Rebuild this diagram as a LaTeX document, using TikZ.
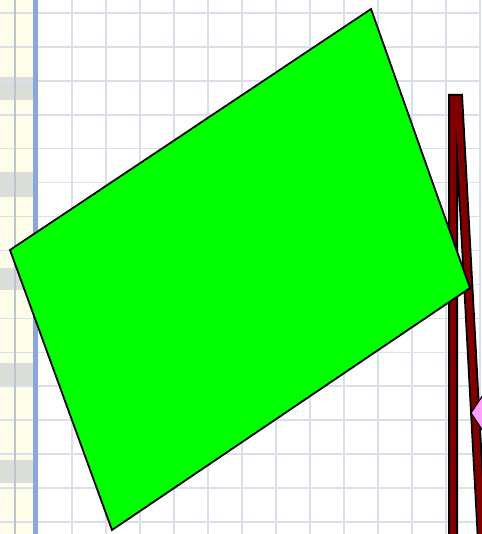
\documentclass[tikz,border=0pt]{standalone}
\definecolor{gridc}{HTML}{D9E0EA}
\definecolor{stripc}{HTML}{FDFDEA}
\definecolor{bandc}{HTML}{DADDD8}
\definecolor{stripline}{HTML}{BCC4CE}
\definecolor{marginc}{HTML}{8CA6DA}
\definecolor{maroonc}{HTML}{800000}
\definecolor{greenc}{HTML}{00FF00}
\definecolor{pinkc}{HTML}{FFA0FF}
\tikzset{
  gridline/.style={gridc, line width=1.5},
  outline/.style={draw=black, line width=1.8, line join=miter},
}
\begin{document}
\begin{tikzpicture}[x=1pt,y=-1pt]
\useasboundingbox (0,0) rectangle (481,534);
\fill[white] (0,0) rectangle (481,534);
% left strip
\fill[stripc] (0,0) rectangle (34,534);
\foreach \a/\b in {77/100,172/197,268/290,363/387,460/483}
  \fill[bandc] (0,\a) rectangle (34,\b);
% grid
\foreach \i in {0,...,12}
  \draw[gridline] ({72+34*\i},0) -- ++(0,534);
\foreach \j in {0,...,15}
  \draw[gridline] (0,{13+33.93*\j}) -- (481,{13+33.93*\j});
\draw[stripline, line width=1.6] (15,0) -- (15,534);
\draw[marginc, line width=4.5] (35.5,0) -- (35.5,534);
% maroon legs
\coordinate (l1) at (453,94);
\coordinate (l2) at (453,540);
\coordinate (r1) at (457.9,94);
\coordinate (r2) at (482,540);
\draw[black, line width=10] (l1) -- (l2) (r1) -- (r2);
\draw[maroonc, line width=6.4] ([yshift=-2pt]l1) -- (l2) ([yshift=-2pt]r1) -- (r2);
% pink diamond
\coordinate (d1) at (471,413);
\coordinate (d2) at (487,389);
\coordinate (d3) at (503,413);
\coordinate (d4) at (487,437);
\filldraw[fill=pinkc, outline, line width=1.2] (d1) -- (d2) -- (d3) -- (d4) -- cycle;
% green rectangle
\coordinate (g1) at (371,9);
\coordinate (g2) at (470,288);
\coordinate (g3) at (112,530);
\coordinate (g4) at (10,250);
\filldraw[fill=greenc, outline] (g1) -- (g2) -- (g3) -- (g4) -- cycle;
\end{tikzpicture}
\end{document}
